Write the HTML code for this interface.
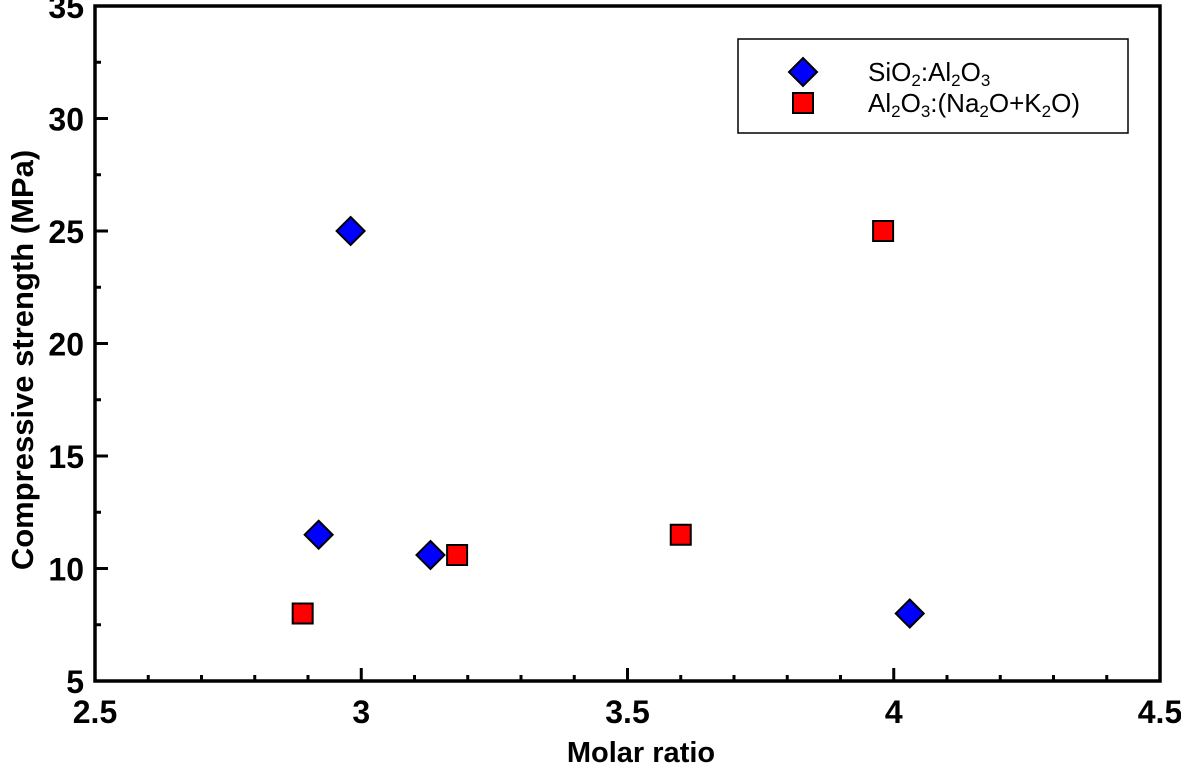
<!DOCTYPE html>
<html><head><meta charset="utf-8"><style>
body{margin:0;background:#fff;}
svg{display:block;font-family:"Liberation Sans",Arial,sans-serif;}
</style></head><body>
<svg id="chart" width="1181" height="768">
<g id="marks"></g>
</svg>
<script>
const xTicks=[2.5,3,3.5,4,4.5];
const xTickLabels=["2.5","3","3.5","4","4.5"];
const yTicks=[5,10,15,20,25,30,35];
const yTickLabels=["5","10","15","20","25","30","35"];
const sioX=[2.92,2.98,3.13,4.03];
const sioY=[11.5,25,10.6,8];
const alX=[2.89,3.18,3.60,3.98];
const alY=[8,10.6,11.5,25];

const L=95,R=1160,T=6,B=681;
const xs=v=>L+(v-2.5)/2*(R-L);
const ys=v=>B-(v-5)/30*(B-T);
const svg=document.getElementById('chart');
const NS='http://www.w3.org/2000/svg';
function mk(tag,attrs,parent){const e=document.createElementNS(NS,tag);for(const k in attrs)e.setAttribute(k,attrs[k]);(parent||svg).appendChild(e);return e;}

const frame=mk('rect',{x:L,y:T,width:R-L,height:B-T,fill:'none',stroke:'#000','stroke-width':3.5});



for(let v=2.5;v<=4.5001;v+=0.1){
  const major=Math.abs(v*2-Math.round(v*2))<1e-6;
  const t=mk('line',{x1:xs(v),x2:xs(v),y1:B,y2:B-(major?13:6),stroke:'#000','stroke-width':3});
  
  
}
xTicks.forEach((v,i)=>{
  const t=mk('text',{x:xs(v),y:B+42,'text-anchor':'middle','font-size':32,'font-weight':'bold'});
  t.textContent=xTickLabels[i];
  
  
});
for(let v=5;v<=35.001;v+=2.5){
  const major=Math.abs(v/5-Math.round(v/5))<1e-6;
  const t=mk('line',{x1:L,x2:L+(major?13:6),y1:ys(v),y2:ys(v),stroke:'#000','stroke-width':3});
  
  
}
yTicks.forEach((v,i)=>{
  const t=mk('text',{x:L-11,y:ys(v)+12,'text-anchor':'end','font-size':32,'font-weight':'bold'});
  t.textContent=yTickLabels[i];
  
  
});
const xt=mk('text',{x:641,y:762,'text-anchor':'middle','font-size':29,'font-weight':'bold'});
xt.textContent='Molar ratio';


const yt=mk('text',{x:0,y:0,'text-anchor':'middle','font-size':31,'font-weight':'bold',transform:`translate(33,360) rotate(-90)`});
yt.textContent='Compressive strength (MPa)';



function diamond(cx,cy,g){const s=14;return mk('polygon',{points:`${cx},${cy-s} ${cx+s},${cy} ${cx},${cy+s} ${cx-s},${cy}`,fill:'#0000ff',stroke:'#000','stroke-width':2},g);}
function square(cx,cy,g){const s=10;return mk('rect',{x:cx-s,y:cy-s,width:2*s,height:2*s,fill:'#ff0000',stroke:'#000','stroke-width':2},g);}
const marks=document.getElementById('marks');
sioX.forEach((x,i)=>{const p=diamond(xs(x),ys(sioY[i]),marks);
  
  });
alX.forEach((x,i)=>{const p=square(xs(x),ys(alY[i]),marks);
  
  });

const lg=mk('g',{});


mk('rect',{x:738,y:39,width:390,height:94,fill:'#fff',stroke:'#000','stroke-width':1.5},lg);
const d=diamond(803,72,lg);


const s=square(803,103,lg);


const t1=mk('text',{x:868,y:81,'font-size':26},lg);
t1.innerHTML='SiO<tspan font-size="17" dy="5">2</tspan><tspan dy="-5">:Al</tspan><tspan font-size="17" dy="5">2</tspan><tspan dy="-5">O</tspan><tspan font-size="17" dy="5">3</tspan>';


const t2=mk('text',{x:868,y:112,'font-size':26},lg);
t2.innerHTML='Al<tspan font-size="17" dy="5">2</tspan><tspan dy="-5">O</tspan><tspan font-size="17" dy="5">3</tspan><tspan dy="-5">:(Na</tspan><tspan font-size="17" dy="5">2</tspan><tspan dy="-5">O+K</tspan><tspan font-size="17" dy="5">2</tspan><tspan dy="-5">O)</tspan>';


</script>
</body></html>
